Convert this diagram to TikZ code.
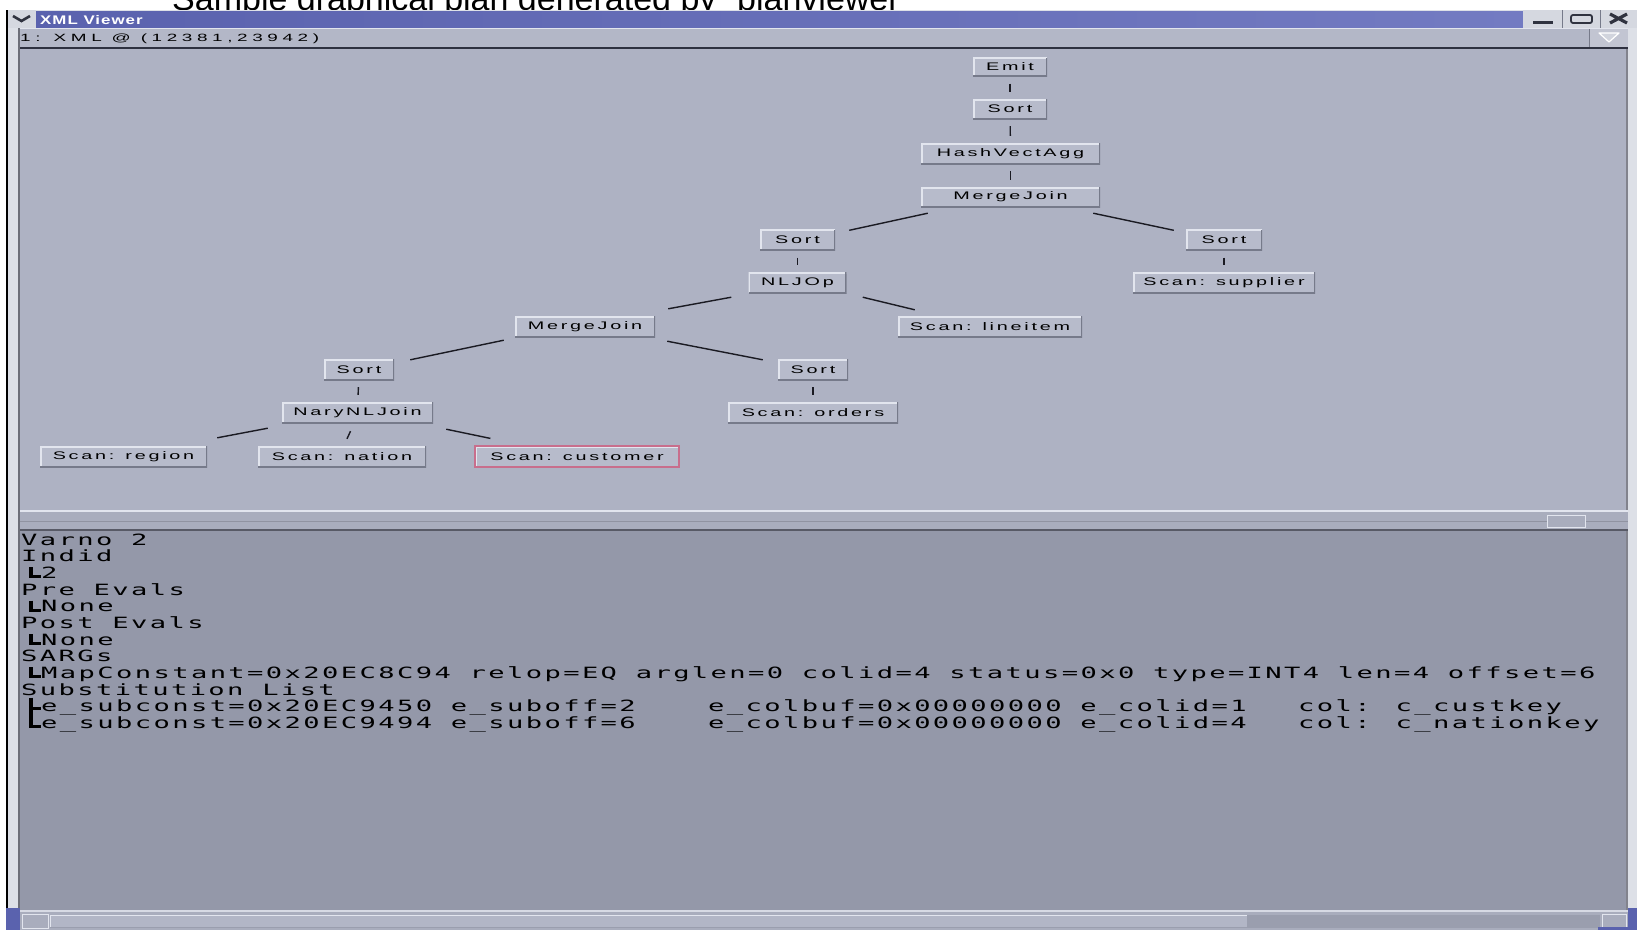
\documentclass[tikz,border=0pt]{standalone}
\usepackage{fontspec}
\setmainfont{Liberation Sans}
\newfontfamily\nodefont[FakeStretch=1.8,LetterSpace=25]{Liberation Sans}
\newfontfamily\rowfont[FakeStretch=1.8,LetterSpace=44]{Liberation Sans}
\newfontfamily\barfont[FakeStretch=1.35,LetterSpace=8]{Liberation Sans}
\newfontfamily\panelfont[FakeStretch=1.75,LetterSpace=15.5]{DejaVu Sans Mono}
\definecolor{canvasc}{HTML}{AEB2C3}
\definecolor{boxfill}{HTML}{B7BBCB}
\definecolor{boxlight}{HTML}{E2E5EE}
\definecolor{boxdark}{HTML}{767A8A}
\definecolor{panelc}{HTML}{9498A9}
\definecolor{rowc}{HTML}{B3B7C7}
\definecolor{tbleft}{HTML}{5A62AE}
\definecolor{tbright}{HTML}{737BC2}
\definecolor{btnface}{HTML}{D5D8E0}
\definecolor{framelight}{HTML}{DDE0E7}
\definecolor{darkline}{HTML}{2E3140}
\definecolor{edgec}{HTML}{1A1A22}
\definecolor{pinkedge}{HTML}{C86E8C}
\definecolor{splitc}{HTML}{A9ADBD}
\definecolor{sbtrack}{HTML}{9A9EAE}
\definecolor{sbslider}{HTML}{B2B6C6}
\definecolor{glyphc}{HTML}{303340}
\begin{document}
\begin{tikzpicture}[x=1pt,y=-1pt,
  planbox/.style={fill=boxfill, inner sep=0pt, minimum height=21pt, text=black,
    font=\nodefont\fontsize{11}{13}\selectfont,
    path picture={
      \draw[line width=3pt, boxlight] (path picture bounding box.south west) -- (path picture bounding box.north west) -- (path picture bounding box.north east);
      \draw[line width=3pt, boxdark] (path picture bounding box.south west) -- (path picture bounding box.south east) -- (path picture bounding box.north east);}},
  conn/.style={line width=1.4pt, edgec},
  vconn/.style={conn, shorten <=7pt, shorten >=7pt},
  ptext/.style={anchor=base west, inner sep=0pt, text=black, font=\panelfont\fontsize{15.5}{17}\selectfont},
  treeglyph/.style={line width=3.2pt, black},
]
\clip (0,0) rectangle (1637,930);
\fill[white] (0,0) rectangle (1637,930);
% slide title, mostly cut off by the top edge
\node[anchor=base west, inner sep=0pt, font=\fontsize{34}{36}\selectfont] (slidetitle) at (172,10) {Sample graphical plan generated by "planviewer"};
% window frame
\fill[framelight] (6,10) rectangle (1637,930);
\fill[black] (6,10) rectangle (8,930);
\fill[darkline!70] (18,28) rectangle (20,911);
\fill[darkline!60] (1626,28) rectangle (1628,911);
% title bar
\shade[left color=tbleft, right color=tbright] (36,11) rectangle (1523,28);
\fill[btnface] (8,10) rectangle (36,28);
\draw[line width=2.6pt, glyphc] (13,16) -- (21.5,21) -- (30,16);
\node[anchor=base west, inner sep=0pt, text=white, font=\barfont\bfseries\fontsize{12.5}{14}\selectfont] (wintitle) at (40,24.5) {XML Viewer};
\fill[btnface] (1523,10) rectangle (1637,28);
\draw[line width=1pt, boxdark] (1562,10) -- (1562,28) (1600,10) -- (1600,28);
\draw[line width=3pt, glyphc] (1533,22) -- (1553,22);
\draw[line width=1.8pt, glyphc, rounded corners=2pt] (1571,15) rectangle (1592,23);
\draw[line width=3.2pt, glyphc] (1610,14) -- (1627,23) (1610,23) -- (1627,14);
% info row
\fill[rowc] (20,28) rectangle (1628,47);
\fill[boxlight] (20,28) rectangle (1628,29);
\node[anchor=base west, inner sep=0pt, text=black, font=\rowfont\fontsize{10.5}{12}\selectfont] (inforow) at (20,41.5) {1: XML @ (12381,23942)};
\fill[rowc!80!white] (1590,29) rectangle (1628,47);
\draw[line width=1pt, boxdark] (1589,29) -- (1589,47);
\filldraw[fill=rowc!60!white, draw=white, line width=1.2pt, line join=round] (1599,33) -- (1619,33) -- (1609,42) -- cycle;
\fill[darkline] (20,47) rectangle (1628,49);
% plan canvas
\fill[canvasc] (20,49) rectangle (1626,510);
% splitter
\fill[boxlight] (20,510) rectangle (1628,512);
\fill[splitc] (20,512) rectangle (1628,529);
\fill[splitc!85!black] (20,520.5) rectangle (1628,521.5);
\filldraw[fill=splitc, draw=boxlight, line width=1pt] (1547,515) rectangle (1585,527);
\fill[darkline!80] (20,529) rectangle (1628,531);
% details panel
\fill[panelc] (20,531) rectangle (1626,910);
% bottom scrollbar
\fill[splitc] (20,910) rectangle (1628,930);
\fill[boxlight!80!splitc] (20,910) rectangle (1628,912);
\fill[sbtrack] (50,915) rectangle (1600,928);
\fill[sbslider] (50,915) rectangle (1247,927);
\draw[line width=1pt, boxlight] (50,927) -- (50,915) -- (1247,915);
\draw[line width=1pt, boxlight] (22,914) rectangle (48,928);
\draw[line width=1pt, boxlight] (1602,914) rectangle (1626,928);
\fill[tbleft] (6,908) rectangle (20,930);
\fill[tbleft] (1598,927) rectangle (1637,930);
\fill[tbleft] (1628,908) rectangle (1637,930);

% plan tree nodes
\node[planbox, minimum width=74pt, minimum height=19pt] (emit) at (1010,67) {Emit};
\node[planbox, minimum width=74pt, minimum height=20pt] (sorta) at (1010,109) {Sort};
\node[planbox, minimum width=179pt] (hash) at (1010.5,153.5) {HashVectAgg};
\node[planbox, minimum width=179pt, minimum height=20pt] (mja) at (1010.5,197) {MergeJoin};
\node[planbox, minimum width=75pt] (sortl) at (797.5,240) {Sort};
\node[planbox, minimum width=76pt] (sortr) at (1224,240) {Sort};
\node[planbox, minimum width=98pt] (nlj) at (797.5,282.5) {NLJOp};
\node[planbox, minimum width=182pt] (supp) at (1224,282.5) {Scan: supplier};
\node[planbox, minimum width=140pt] (mjb) at (585,326.5) {MergeJoin};
\node[planbox, minimum width=184pt] (lineit) at (990,326.5) {Scan: lineitem};
\node[planbox, minimum width=70pt] (sortll) at (359,369.5) {Sort};
\node[planbox, minimum width=70pt] (sorto) at (813,369.5) {Sort};
\node[planbox, minimum width=151pt] (nary) at (357.5,412.5) {NaryNLJoin};
\node[planbox, minimum width=170pt] (scano) at (813,412.5) {Scan: orders};
\node[planbox, minimum width=167pt] (region) at (123.5,456.5) {Scan: region};
\node[planbox, minimum width=168pt] (nation) at (342,456.5) {Scan: nation};
\node[planbox, minimum width=204pt, draw=pinkedge, line width=1.2pt] (cust) at (577,456.5) {Scan: customer};

% connectors
\draw[vconn] (emit) -- (sorta);
\draw[vconn] (sorta) -- (hash);
\draw[vconn] (hash) -- (mja);
\draw[vconn] (sortl) -- (nlj);
\draw[vconn] (sortr) -- (supp);
\draw[vconn] (sortll) -- (nary);
\draw[vconn] (sorto) -- (scano);
\draw[conn] ([xshift=7pt,yshift=-6pt]mja.south west) -- ([xshift=14pt,yshift=-1pt]sortl.north east);
\draw[conn] ([xshift=-7pt,yshift=-6pt]mja.south east) -- ([xshift=-12pt,yshift=-1pt]sortr.north west);
\draw[conn] ([xshift=-17pt,yshift=-4pt]nlj.south west) -- ([xshift=13pt,yshift=7pt]mjb.north east);
\draw[conn] ([xshift=16pt,yshift=-4pt]nlj.south east) -- ([xshift=17pt,yshift=6pt]lineit.north west);
\draw[conn] ([xshift=-11pt,yshift=-3pt]mjb.south west) -- ([xshift=16pt,yshift=-1pt]sortll.north east);
\draw[conn] ([xshift=12pt,yshift=-4pt]mjb.south east) -- ([xshift=-15pt,yshift=-1pt]sorto.north west);
\draw[conn] ([xshift=-14pt,yshift=-5pt]nary.south west) -- ([xshift=10pt,yshift=8pt]region.north east);
\draw[conn] ([xshift=-7pt,yshift=-8pt]nary.south) -- ([xshift=5pt,yshift=7pt]nation.north);
\draw[conn] ([xshift=13pt,yshift=-6pt]nary.south east) -- ([xshift=16pt,yshift=7pt]cust.north west);

% details text
\node[ptext] (t0) at (21,545) {Varno 2};
\node[ptext] (t1) at (21,561.6) {Indid};
\node[ptext] (t2) at (41,578.3) {2};
\node[ptext] (t3) at (21,595) {Pre Evals};
\node[ptext] (t4) at (41,611.6) {None};
\node[ptext] (t5) at (21,628.3) {Post Evals};
\node[ptext] (t6) at (41,645) {None};
\node[ptext] (t7) at (21,661.6) {SARGs};
\node[ptext] (t8) at (41,678.2) {MapConstant=0x20EC8C94 relop=EQ arglen=0 colid=4 status=0x0 type=INT4 len=4 offset=6};
\node[ptext] (t9) at (21,695) {Substitution List};
\node[ptext] (t10a) at (41,711.5) {e\_subconst=0x20EC9450 e\_suboff=2};
\node[ptext] (t10b) at (708,711.5) {e\_colbuf=0x00000000 e\_colid=1};
\node[ptext] (t10c) at (1298,711.5) {col: c\_custkey};
\node[ptext] (t11a) at (41,728.2) {e\_subconst=0x20EC9494 e\_suboff=6};
\node[ptext] (t11b) at (708,728.2) {e\_colbuf=0x00000000 e\_colid=4};
\node[ptext] (t11c) at (1298,728.2) {col: c\_nationkey};
% tree glyphs
\draw[treeglyph] ([xshift=-10pt,yshift=11pt]t2.base west) |- ([yshift=1.5pt]t2.base west);
\draw[treeglyph] ([xshift=-10pt,yshift=11pt]t4.base west) |- ([yshift=1.5pt]t4.base west);
\draw[treeglyph] ([xshift=-10pt,yshift=11pt]t6.base west) |- ([yshift=1.5pt]t6.base west);
\draw[treeglyph] ([xshift=-10pt,yshift=11pt]t8.base west) |- ([yshift=1.5pt]t8.base west);
\draw[treeglyph] ([xshift=-10pt,yshift=14pt]t10a.base west) |- ([yshift=2pt]t11a.base west);
\draw[treeglyph] ([xshift=-10pt,yshift=3pt]t10a.base west) -- ([yshift=3pt]t10a.base west);
\end{tikzpicture}
\end{document}
